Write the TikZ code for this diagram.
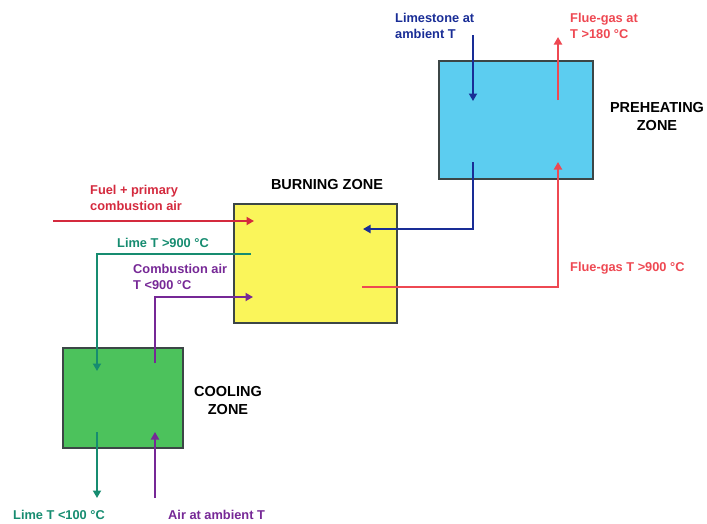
\documentclass[tikz,border=0pt]{standalone}
\usepackage{fontspec}
\setmainfont{Liberation Sans}
\usetikzlibrary{arrows.meta}
\definecolor{navy}{RGB}{25,45,150}
\definecolor{flue}{RGB}{238,72,82}
\definecolor{fuel}{RGB}{212,42,62}
\definecolor{teal}{RGB}{22,140,112}
\definecolor{purp}{RGB}{118,40,150}
\definecolor{cyanfill}{RGB}{92,205,240}
\definecolor{yelfill}{RGB}{250,245,90}
\definecolor{grnfill}{RGB}{76,194,92}
\definecolor{boxgray}{RGB}{60,70,70}
\begin{document}
\begin{tikzpicture}[x=1pt,y=-1pt,
  >={Triangle[length=7.5pt,width=8pt]},
  flow/.style={line width=1.9pt},
  zone/.style={draw=boxgray,line width=1.5pt,inner sep=0pt,anchor=north west},
  lab/.style={font=\bfseries\fontsize{12.8}{16.5}\selectfont,inner sep=0pt,anchor=north west,align=left},
  zlab/.style={font=\bfseries\fontsize{14.5}{18}\selectfont,inner sep=0pt,anchor=north,align=center}]
\useasboundingbox (0,0) rectangle (707,523);
% zones
\node[zone,fill=cyanfill,minimum width=154pt,minimum height=118pt] (pre) at (438,60) {};
\node[zone,fill=yelfill,minimum width=163pt,minimum height=119pt] (burn) at (233,203) {};
\node[zone,fill=grnfill,minimum width=120pt,minimum height=100pt] (cool) at (62,347) {};
% zone labels
\node[zlab] (prelab) at (657,102) {PREHEATING\\ZONE};
\node[zlab] (burnlab) at (327,179) {BURNING ZONE};
\node[zlab] (coollab) at (228,386) {COOLING\\ZONE};
% flow labels
\node[lab,text=navy] (limestone) at (395,13) {Limestone at\\ambient T};
\node[lab,text=flue] (fluetop) at (570,13) {Flue-gas at\\T >180 °C};
\node[lab,text=fuel] (fuellab) at (90,185) {Fuel + primary\\combustion air};
\node[lab,text=teal] (lime900) at (117,238) {Lime T >900 °C};
\node[lab,text=purp] (comb) at (133,264) {Combustion air\\T <900 °C};
\node[lab,text=flue] (flue900) at (570,262) {Flue-gas T >900 °C};
\node[lab,text=teal] (lime100) at (13,510) {Lime T <100 °C};
\node[lab,text=purp] (airamb) at (168,510) {Air at ambient T};
% coordinates
\coordinate (ls0) at (473,35);
\coordinate (ls1) at (473,101);
\coordinate (b0) at (473,162);
\coordinate (b1) at (473,229);
\coordinate (b2) at (363,229);
\coordinate (f0) at (558,100);
\coordinate (f1) at (558,37);
\coordinate (r0) at (362,287);
\coordinate (r1) at (558,287);
\coordinate (r2) at (558,162);
\coordinate (fu0) at (53,221);
\coordinate (fu1) at (254,221);
\coordinate (t0) at (251,254);
\coordinate (t1) at (97,254);
\coordinate (t2) at (97,371);
\coordinate (t3) at (97,432);
\coordinate (t4) at (97,498);
\coordinate (p0) at (155,363);
\coordinate (p1) at (155,297);
\coordinate (p2) at (253,297);
\coordinate (p3) at (155,498);
\coordinate (p4) at (155,432);
% flows
\draw[flow,navy,->] (ls0) -- (ls1);
\draw[flow,navy,->] (b0) -- (b1) -- (b2);
\draw[flow,flue,->] (f0) -- (f1);
\draw[flow,flue,->] (r0) -- (r1) -- (r2);
\draw[flow,fuel,->] (fu0) -- (fu1);
\draw[flow,teal,->] (t0) -- (t1) -- (t2);
\draw[flow,teal,->] (t3) -- (t4);
\draw[flow,purp,->] (p0) -- (p1) -- (p2);
\draw[flow,purp,->] (p3) -- (p4);
\end{tikzpicture}
\end{document}
